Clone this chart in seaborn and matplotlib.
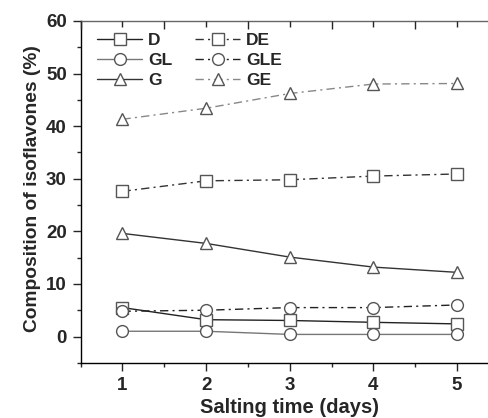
import pandas as pd
import matplotlib.pyplot as plt
import seaborn as sns
from matplotlib.ticker import MultipleLocator

days = [1, 2, 3, 4, 5]
d_vals = [5.5, 3.2, 3.05, 2.7, 2.4]
gl_vals = [1.0, 1.0, 0.4, 0.4, 0.4]
g_vals = [19.6, 17.7, 15.1, 13.2, 12.2]
de_vals = [27.6, 29.6, 29.8, 30.5, 30.9]
gle_vals = [4.8, 5.0, 5.5, 5.5, 6.0]
ge_vals = [41.3, 43.4, 46.2, 48.0, 48.1]

sns.set_style("ticks")
plt.rcParams["font.family"] = ["Liberation Sans", "DejaVu Sans"]
plt.rcParams["font.weight"] = "bold"

fig = plt.figure(figsize=(4.89, 4.18), dpi=100)
ax = fig.add_axes([0.165, 0.132, 0.855, 0.818])

dashdot = (0, (6, 3, 1.5, 3))
series = [
    ("D", d_vals, "s", "-", "#222222"),
    ("GL", gl_vals, "o", "-", "#777777"),
    ("G", g_vals, "^", "-", "#333333"),
    ("DE", de_vals, "s", dashdot, "#333333"),
    ("GLE", gle_vals, "o", dashdot, "#222222"),
    ("GE", ge_vals, "^", dashdot, "#888888"),
]

for name, vals, mk, ls, col in series:
    df = pd.DataFrame({"day": days, "value": vals})
    sns.lineplot(
        data=df, x="day", y="value", ax=ax, label=name,
        color=col, linestyle=ls, linewidth=1.0,
        marker=mk, markersize=8.5, markerfacecolor="white",
        markeredgecolor="#555555", markeredgewidth=1.0,
    )

ax.set_xlim(0.5, 5.5)
ax.set_ylim(-5, 60)
ax.xaxis.set_major_locator(MultipleLocator(1))
ax.xaxis.set_minor_locator(MultipleLocator(0.5))
ax.yaxis.set_major_locator(MultipleLocator(10))
ax.yaxis.set_minor_locator(MultipleLocator(5))
ax.tick_params(which="major", direction="out", length=6, width=1, labelsize=13.5, pad=4)
ax.tick_params(which="minor", direction="out", length=3, width=1)
for lab in ax.get_xticklabels() + ax.get_yticklabels():
    lab.set_fontweight("bold")
ax.spines["right"].set_visible(False)
for s in ["left", "bottom", "top"]:
    ax.spines[s].set_linewidth(1.0)
    ax.spines[s].set_color("black")
ax.spines["top"].set_color("#666666")

top = ax.twiny()
top.set_xlim(ax.get_xlim())
top.xaxis.set_major_locator(MultipleLocator(1, offset=0.5))
top.xaxis.set_minor_locator(MultipleLocator(1))
top.tick_params(which="major", direction="in", length=6, width=1, labeltop=False)
top.tick_params(which="minor", direction="in", length=4, width=1)
for s in top.spines.values():
    s.set_visible(False)

ax.set_xlabel("Salting time (days)", fontsize=14.5, fontweight="bold", labelpad=3)
ax.set_ylabel("Composition of isoflavones (%)", fontsize=13.8, fontweight="bold")
ax.yaxis.set_label_coords(-0.095, 0.51)

leg = ax.legend(
    loc="upper left", ncol=2, frameon=False, fontsize=12.5,
    handlelength=2.6, handletextpad=0.35, columnspacing=1.3,
    labelspacing=0.28, borderaxespad=0.3, bbox_to_anchor=(0.01, 1.0),
)
for t in leg.get_texts():
    t.set_fontweight("bold")

fig.savefig("out.png", dpi=100)
